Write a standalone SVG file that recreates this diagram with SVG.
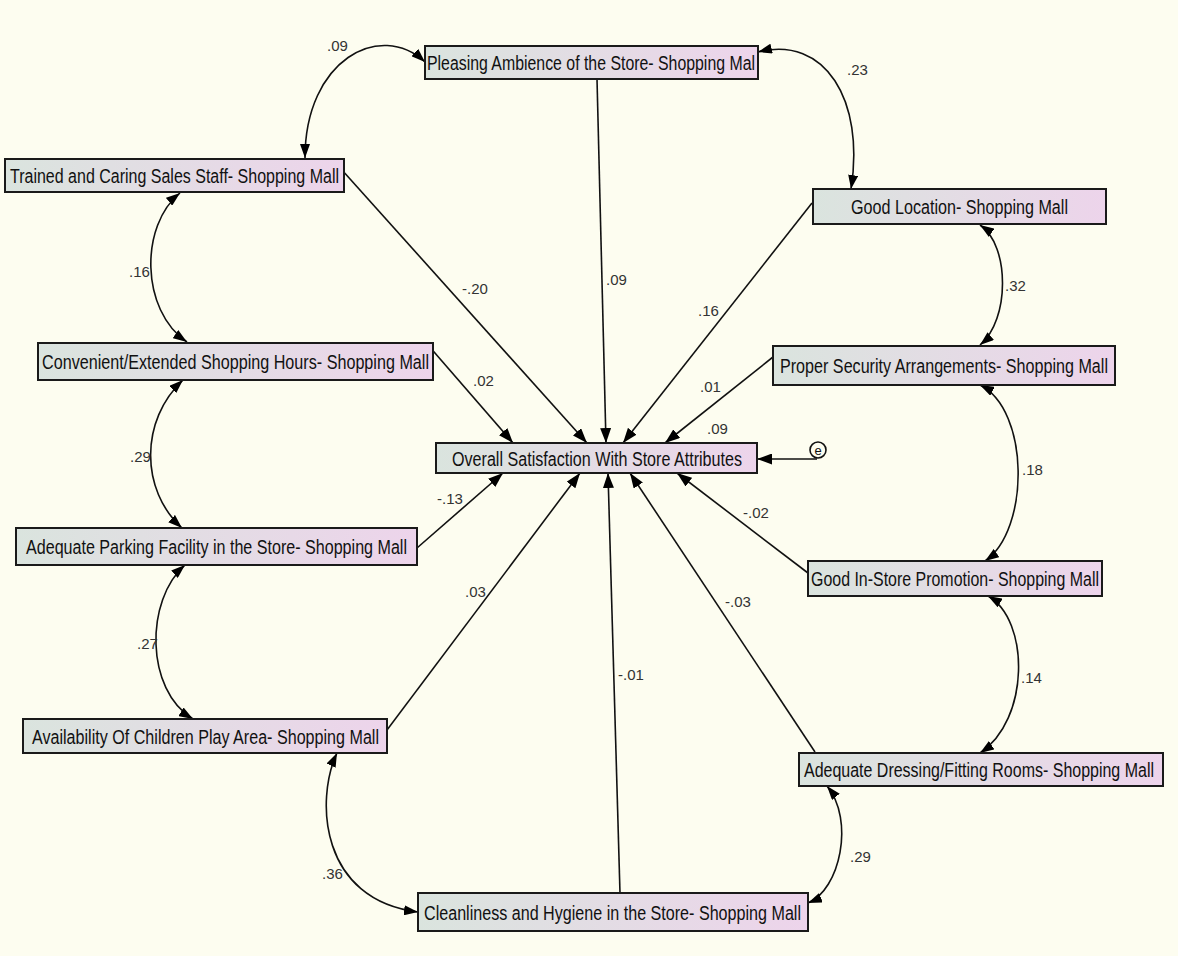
<svg xmlns="http://www.w3.org/2000/svg" width="1178" height="956" viewBox="0 0 1178 956">
<defs>
<linearGradient id="bx" x1="0" y1="0" x2="1" y2="0">
<stop offset="0" stop-color="#DAE4DE"/>
<stop offset="1" stop-color="#EDD4EB"/>
</linearGradient>
<marker id="ah" viewBox="0 0 15 11" refX="15" refY="5.5" markerWidth="15" markerHeight="11" markerUnits="userSpaceOnUse" orient="auto-start-reverse">
<path d="M0,0 L15,5.5 L0,11 Z" fill="#000"/>
</marker>
<marker id="ahs" viewBox="0 0 14 10" refX="14" refY="5" markerWidth="14" markerHeight="10" markerUnits="userSpaceOnUse" orient="auto-start-reverse">
<path d="M0,0 L14,5 L0,10 Z" fill="#000"/>
</marker>
<style>
.box{fill:url(#bx);stroke:#1a1a1a;stroke-width:2}
.nt{font-family:"Liberation Sans",Arial,sans-serif;font-size:20px;fill:#111}
.lb{font-family:"Liberation Sans",Arial,sans-serif;font-size:15px;fill:#333}
.ln{stroke:#111;stroke-width:1.6;fill:none;marker-end:url(#ah)}
.cv{stroke:#111;stroke-width:1.6;fill:none;marker-start:url(#ahs);marker-end:url(#ahs)}
</style>
</defs>
<rect x="0" y="0" width="1178" height="956" fill="#FDFDF0"/>

<g id="connectors">
<line class="ln" x1="333" y1="160" x2="587" y2="443"/>
<line class="ln" x1="597" y1="79" x2="606" y2="443"/>
<line class="ln" x1="812" y1="203" x2="623" y2="443"/>
<line class="ln" x1="428" y1="345" x2="513" y2="443"/>
<line class="ln" x1="773" y1="357" x2="665" y2="443"/>
<line class="ln" x1="417" y1="548" x2="503" y2="473"/>
<line class="ln" x1="387" y1="730" x2="580" y2="473"/>
<line class="ln" x1="620" y1="893" x2="608" y2="473"/>
<line class="ln" x1="815" y1="752" x2="630" y2="473"/>
<line class="ln" x1="808" y1="573" x2="677" y2="473"/>
<line class="ln" x1="817" y1="459" x2="757" y2="459"/>
<path class="cv" d="M305,158 C305,60 380,20 425,62"/>
<path class="cv" d="M758,52 C825,35 865,100 851,189"/>
<path class="cv" d="M180,193 C140,225 140,310 187,342"/>
<path class="cv" d="M183,380 C140,420 140,490 182,528"/>
<path class="cv" d="M185,565 C145,600 145,690 193,719"/>
<path class="cv" d="M337,753 C315,800 320,900 418,912"/>
<path class="cv" d="M808,903 C840,890 855,820 827,786"/>
<path class="cv" d="M988,596 C1030,620 1030,720 980,753"/>
<path class="cv" d="M980,385 C1030,410 1030,530 985,561"/>
<path class="cv" d="M980,225 C1010,245 1010,320 980,345"/>
<text class="lb" x="327" y="51">.09</text>
<text class="lb" x="847" y="75">.23</text>
<text class="lb" x="129" y="277">.16</text>
<text class="lb" x="130" y="462">.29</text>
<text class="lb" x="137" y="649">.27</text>
<text class="lb" x="322" y="879">.36</text>
<text class="lb" x="850" y="862">.29</text>
<text class="lb" x="1021" y="683">.14</text>
<text class="lb" x="1022" y="475">.18</text>
<text class="lb" x="1005" y="291">.32</text>
<text class="lb" x="606" y="285">.09</text>
<text class="lb" x="462" y="294">-.20</text>
<text class="lb" x="698" y="316">.16</text>
<text class="lb" x="473" y="386">.02</text>
<text class="lb" x="700" y="392">.01</text>
<text class="lb" x="707" y="434">.09</text>
<text class="lb" x="437" y="504">-.13</text>
<text class="lb" x="743" y="518">-.02</text>
<text class="lb" x="465" y="597">.03</text>
<text class="lb" x="725" y="607">-.03</text>
<text class="lb" x="618" y="680">-.01</text>
</g>

<g id="n-ambience"><rect class="box" x="425" y="46" width="333" height="33"/><text class="nt" x="427" y="70" textLength="328" lengthAdjust="spacingAndGlyphs">Pleasing Ambience of the Store- Shopping Mal</text></g>
<g id="n-staff"><rect class="box" x="5" y="159" width="339" height="33"/><text class="nt" x="10" y="183" textLength="329" lengthAdjust="spacingAndGlyphs">Trained and Caring Sales Staff- Shopping Mall</text></g>
<g id="n-location"><rect class="box" x="813" y="189" width="293" height="35"/><text class="nt" x="851" y="214" textLength="217" lengthAdjust="spacingAndGlyphs">Good Location- Shopping Mall</text></g>
<g id="n-hours"><rect class="box" x="38" y="343" width="395" height="37"/><text class="nt" x="42" y="369" textLength="387" lengthAdjust="spacingAndGlyphs">Convenient/Extended Shopping Hours- Shopping Mall</text></g>
<g id="n-security"><rect class="box" x="773" y="346" width="342" height="39"/><text class="nt" x="780" y="373" textLength="328" lengthAdjust="spacingAndGlyphs">Proper Security Arrangements- Shopping Mall</text></g>
<g id="n-overall"><rect class="box" x="436" y="443" width="321" height="30"/><text class="nt" x="452" y="466" textLength="290" lengthAdjust="spacingAndGlyphs">Overall Satisfaction With Store Attributes</text></g>
<g id="n-e"><circle cx="818" cy="450" r="8" fill="#FDFDF0" stroke="#111" stroke-width="1.6"/><text x="818" y="455" text-anchor="middle" font-family="Liberation Sans, Arial, sans-serif" font-size="13" fill="#111">e</text></g>
<g id="n-parking"><rect class="box" x="16" y="528" width="401" height="37"/><text class="nt" x="26" y="554" textLength="381" lengthAdjust="spacingAndGlyphs">Adequate Parking Facility in the Store- Shopping Mall</text></g>
<g id="n-promotion"><rect class="box" x="808" y="561" width="294" height="35"/><text class="nt" x="811" y="586" textLength="288" lengthAdjust="spacingAndGlyphs">Good In-Store Promotion- Shopping Mall</text></g>
<g id="n-children"><rect class="box" x="23" y="719" width="364" height="34"/><text class="nt" x="32" y="744" textLength="347" lengthAdjust="spacingAndGlyphs">Availability Of Children Play Area- Shopping Mall</text></g>
<g id="n-dressing"><rect class="box" x="799" y="753" width="364" height="33"/><text class="nt" x="804" y="777" textLength="350" lengthAdjust="spacingAndGlyphs">Adequate Dressing/Fitting Rooms- Shopping Mall</text></g>
<g id="n-cleanliness"><rect class="box" x="418" y="893" width="390" height="38"/><text class="nt" x="424" y="920" textLength="377" lengthAdjust="spacingAndGlyphs">Cleanliness and Hygiene in the Store- Shopping Mall</text></g>
</svg>
